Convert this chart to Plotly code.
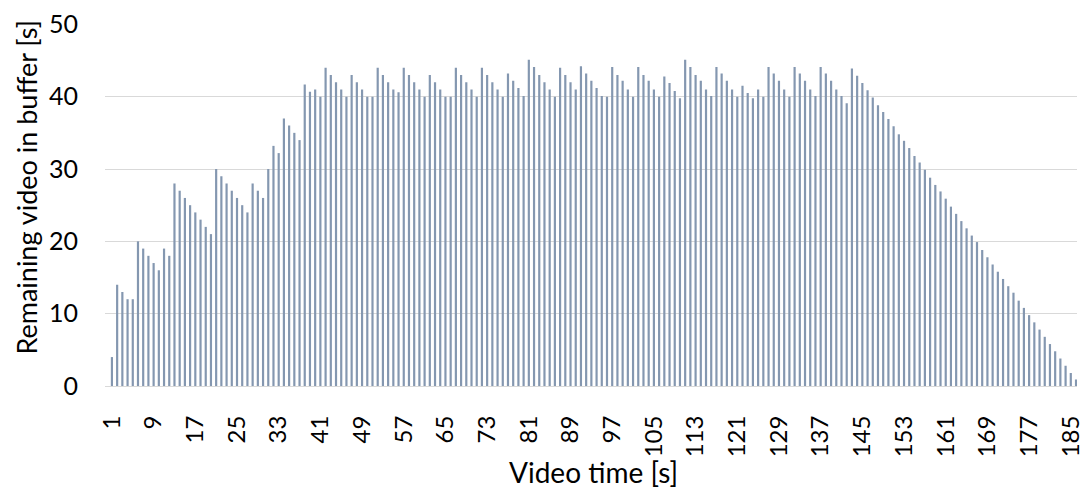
import plotly.graph_objects as go

# Remaining video in buffer [s] for each second of video (1..186)
buffer_1_46 = [4, 14, 13, 12, 12, 20, 19, 18, 17, 16, 19, 18, 28, 27, 26, 25, 24, 23, 22, 21,
               30, 29, 28, 27, 26, 25, 24, 28, 27, 26, 30, 33.2, 32.2, 37, 36, 35, 34, 41.7, 40.7, 41,
               40, 44, 43, 42, 41, 40]
buffer_47_92 = [43, 42, 41, 40, 40, 44, 43, 42, 41, 40.6, 44, 43, 42, 41, 40, 43, 42, 41, 40, 40,
                44, 43, 42, 41, 40, 44, 43, 42, 41, 40, 43.2, 42.2, 41.2, 40.1, 45.1, 44.1, 43, 42, 41, 40,
                44, 43, 42, 41, 44.2, 43.2]
buffer_93_147 = [42.2, 41.2, 40.1, 40, 44.1, 43, 42.2, 41, 40, 44.1, 43, 42.2, 41, 40, 42.8, 41.9, 40.8, 39.8,
                 45.1, 44.1, 43, 42.2, 41, 40.1, 44.1, 43.2, 42.2, 41, 40, 41.5, 40.5, 39.8, 41, 40,
                 44.1, 43.2, 42.2, 41, 40, 44.1, 43.2, 42.2, 41, 40.1, 44.1, 43.2, 42.2, 41, 40.1, 39.1,
                 43.9, 42.9, 41.9, 40.9, 39.9]
buffer_148_186 = [38.8, 37.9, 36.9, 35.9, 34.8, 33.9, 32.9, 31.8, 30.9, 29.9, 28.8, 27.8, 26.9, 25.9,
                  24.8, 23.8, 22.8, 21.8, 20.8, 19.9, 18.8, 17.8, 16.8, 15.8, 14.8, 13.8, 12.9, 11.8,
                  10.8, 9.8, 8.8, 7.8, 6.8, 5.8, 4.8, 3.8, 2.8, 1.8, 0.9]

buffer_values = buffer_1_46 + buffer_47_92 + buffer_93_147 + buffer_148_186
video_time = list(range(1, len(buffer_values) + 1))

x_tick_values = list(range(1, 186, 8))
x_tick_labels = [str(v) for v in x_tick_values]
y_tick_values = [0, 10, 20, 30, 40, 50]

x_title = "Video time [s]"
y_title = "Remaining video in buffer [s]"

FONT = "Lato"
BAR_COLOR = "#8497B0"
GRID = "#D9D9D9"

fig = go.Figure()
fig.add_trace(go.Bar(
    x=video_time,
    y=buffer_values,
    width=0.42,
    marker=dict(color=BAR_COLOR, line=dict(width=0)),
    hoverinfo="x+y",
))

fig.update_layout(
    width=1084,
    height=490,
    margin=dict(l=105, r=0, t=24, b=104, pad=0),
    paper_bgcolor="white",
    plot_bgcolor="white",
    showlegend=False,
    font=dict(family=FONT, color="#000000"),
    xaxis=dict(
        range=[-0.33, 186.19],
        tickmode="array",
        tickvals=x_tick_values,
        ticktext=x_tick_labels,
        tickangle=-90,
        tickfont=dict(family=FONT, size=24, color="#000000"),
        ticks="",
        ticklabelstandoff=19,
        ticklabeloverflow="allow",
        showgrid=False,
        showline=True,
        linecolor=GRID,
        linewidth=1,
        zeroline=False,
    ),
    yaxis=dict(
        range=[0, 50.05],
        tickmode="array",
        tickvals=y_tick_values,
        tickfont=dict(family=FONT, size=25, color="#000000"),
        ticks="",
        ticklabelstandoff=26,
        showgrid=True,
        gridcolor=GRID,
        gridwidth=1,
        zeroline=False,
        showline=False,
    ),
    annotations=[
        dict(text=x_title, xref="paper", yref="paper",
             x=(597.5 - 105) / 979, y=(386 - 490) / 362,
             xanchor="center", yanchor="bottom", showarrow=False, borderpad=0,
             font=dict(family=FONT, size=28, color="#000000")),
        dict(text=y_title, xref="paper", yref="paper",
             x=(25 - 105) / 979, y=(386 - 187) / 362,
             xanchor="center", yanchor="middle", textangle=-90, showarrow=False,
             font=dict(family=FONT, size=27, color="#000000")),
    ],
)

fig.write_html(
    "out.html",
    config={"displayModeBar": False},
    post_script="document.body.style.margin='0';document.body.style.overflow='hidden';",
)
